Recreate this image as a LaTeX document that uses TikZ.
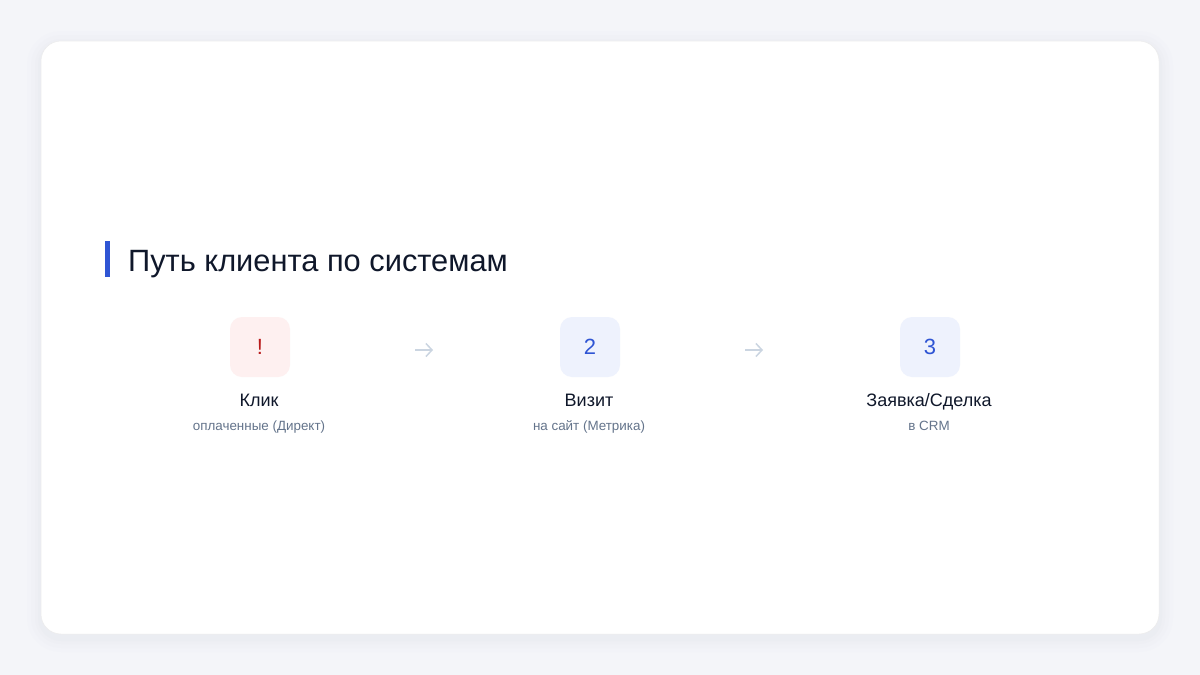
\documentclass[tikz,border=0pt]{standalone}
\usepackage{fontspec}
\setmainfont{Liberation Sans}
\usetikzlibrary{arrows.meta}
\definecolor{bgc}{HTML}{F4F5F9}
\definecolor{ink}{HTML}{0F172A}
\definecolor{subink}{HTML}{64748B}
\definecolor{accent}{HTML}{2F55D4}
\definecolor{redink}{HTML}{B91C1C}
\definecolor{redfill}{HTML}{FEF0F0}
\definecolor{bluefill}{HTML}{EEF2FD}
\definecolor{arrowc}{HTML}{CBD5E1}
\definecolor{shadowc}{HTML}{D8DCE6}
\tikzset{
  stepicon/.style={rounded corners=12pt, minimum width=60pt, minimum height=60pt, inner sep=0pt, font=\fontsize{22}{26}\selectfont},
  steptitle/.style={font=\fontsize{18}{21}\selectfont, text=ink, inner sep=0pt, anchor=base},
  stepsub/.style={font=\fontsize{13.4}{16}\selectfont, text=subink, inner sep=0pt, anchor=base},
  flowarrow/.style={draw=arrowc, line width=1.5pt, -{Straight Barb[length=6pt,width=13pt,line width=1.5pt]}, shorten >=0pt}
}
\begin{document}
\begin{tikzpicture}[x=1pt,y=-1pt]
\useasboundingbox (0,0) rectangle (1200,675);
\fill[bgc] (0,0) rectangle (1200,675);
% shadow
\foreach \i/\o in {14/0.05,10/0.06,6/0.08,3/0.10}{
  \fill[shadowc, opacity=\o, rounded corners={20+\i}] (41-\i,41-\i+4) rectangle (1159+\i,634+\i+4);
}
\fill[white, rounded corners=20pt] (41,41) rectangle (1159,634);
\draw[gray!15, line width=0.5pt, rounded corners=20pt] (41,41) rectangle (1159,634);
% title
\fill[accent] (105,241) rectangle (110,277);
\node[anchor=base west, inner sep=0pt, text=ink, font=\fontsize{30.8}{36}\selectfont] (title) at (128,271) {Путь клиента по системам};
% steps
\node[stepicon, fill=redfill, text=redink] (s1) at (260,347) {!};
\node[stepicon, fill=bluefill, text=accent] (s2) at (590,347) {2};
\node[stepicon, fill=bluefill, text=accent] (s3) at (930,347) {3};
\node[steptitle] (t1) at (259,406) {Клик};
\node[steptitle] (t2) at (589,406) {Визит};
\node[steptitle] (t3) at (929,406) {Заявка/Сделка};
\node[stepsub] (d1) at (259,430) {оплаченные (Директ)};
\node[stepsub] (d2) at (589,430) {на сайт (Метрика)};
\node[stepsub] (d3) at (929,430) {в CRM};
\coordinate (a1s) at (415,350); \coordinate (a1e) at (433,350);
\coordinate (a2s) at (745,350); \coordinate (a2e) at (763,350);
\draw[flowarrow] (a1s) -- (a1e);
\draw[flowarrow] (a2s) -- (a2e);
\end{tikzpicture}
\end{document}
